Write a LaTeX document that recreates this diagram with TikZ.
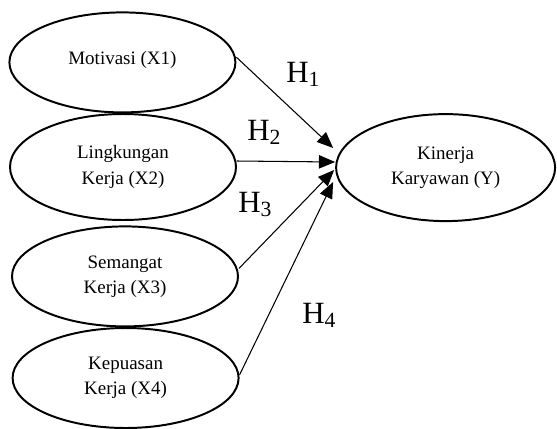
\documentclass[tikz,border=0pt]{standalone}
\usepackage{fontspec}
\setmainfont{Liberation Serif}
\usetikzlibrary{shapes.geometric, arrows.meta}

\begin{document}
\begin{tikzpicture}[
		var/.style={draw, ellipse, line width=1.4pt, inner sep=0pt, align=center, minimum width=5.65cm, minimum height=2.5cm, font=\fontsize{13.5}{18}\selectfont},
		hyp/.style={anchor=base west, inner sep=0pt, font=\fontsize{22}{26}\selectfont},
		link/.style={->, line width=0.75pt},
		>={Triangle[length=11.5pt, width=9.5pt]}]
	\useasboundingbox (0,0) rectangle (13.925,-10.7);
	\node[var] (X1)at(3.06, -1.56) {\raisebox{7pt}{Motivasi (X1)}};
	\node[var, minimum height=2.65cm] (X2)at(3.075, -4.175) {Lingkungan\\Kerja (X2)};
	\node[var] (X3)at(3.125, -6.91) {Semangat\\Kerja (X3)};
	\node[var] (X4)at(3.14, -9.45) {Kepuasan\\Kerja (X4)};
	\node[var, minimum width=5.475cm, minimum height=2.675cm] (Y)at(11.14, -4.19) {Kinerja\\Karyawan (Y)};
	\draw[link] ([yshift=0.13cm]X1.east) -- ([xshift=-0.05cm, yshift=0.49cm]Y.west);
	\draw[link] ([yshift=0.15cm]X2.east) -- ([yshift=0.14cm]Y.west);
	\draw[link] ([yshift=0.2cm]X3.east) -- ([xshift=-0.025cm, yshift=-0.06cm]Y.west);
	\draw[link] ([yshift=0.08cm]X4.east) -- ([xshift=-0.05cm, yshift=-0.36cm]Y.west);
	\node[hyp] (H1)at(7.15, -2.05) {H\textsubscript{1}};
	\node[hyp] (H2)at(6.175, -3.5) {H\textsubscript{2}};
	\node[hyp] (H3)at(5.95, -5.3) {H\textsubscript{3}};
	\node[hyp] (H4)at(7.55, -8.075) {H\textsubscript{4}};
\end{tikzpicture}
\end{document}
